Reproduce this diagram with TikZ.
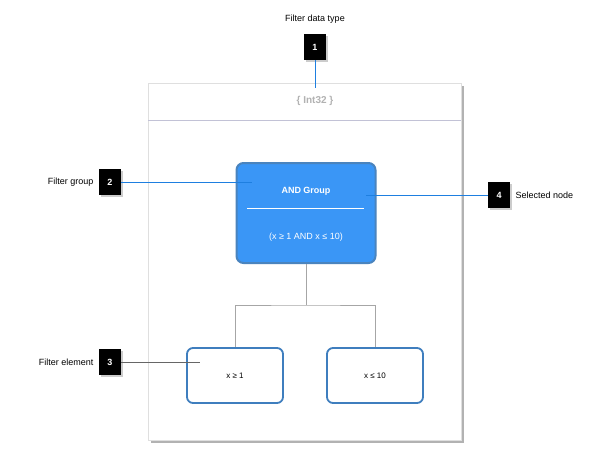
\documentclass[tikz,border=0pt]{standalone}
\usepackage{fontspec}
\setmainfont{Liberation Sans}
\usetikzlibrary{shadows}
\definecolor{grpblue}{HTML}{3A96F6}
\definecolor{grpedge}{HTML}{4A84BE}
\definecolor{elmedge}{HTML}{3F7EBE}
\definecolor{callline}{HTML}{1E7FE0}

\tikzset{
  callout/.style={fill=black, text=white, font=\bfseries\small, minimum width=22pt, minimum height=26pt, inner sep=0pt, drop shadow={shadow xshift=2pt, shadow yshift=-2pt, opacity=0.4}},
  lbl/.style={font=\small},
  element/.style={draw=elmedge, line width=1.8pt, rounded corners=6pt, fill=white, minimum width=96pt, minimum height=55pt, font=\footnotesize},
  tree/.style={draw=gray!70, line width=0.8pt}
}

\begin{document}
\begin{tikzpicture}[x=1pt,y=-1pt]
\useasboundingbox (0,0) rectangle (614,448);
% panel
\fill [gray!60] (151,86) rectangle (464,443);
\draw [fill=white, draw=gray!25] (148,83) rectangle (461,440);
\draw [draw=blue!20!gray!40, line width=0.8pt] (148,120) -- (461,120);
\node (type) at (315,101) [text=gray!60, font=\bfseries] {\{ Int32 \}};
\coordinate (panelTop) at (315,88);
% group node
\node (grp) at (306,213) [draw=grpedge, line width=2pt, fill=grpblue, rounded corners=7pt, minimum width=139pt, minimum height=100pt] {};
\node (grpTitle) at (306,191) [text=white, font=\bfseries\small] {AND Group};
\draw [white, line width=0.8pt] (247,208) -- (364,208);
\node (grpExpr) at (306,237) [text=white, font=\small] {(x ≥ 1 AND x ≤ 10)};
% elements
\node (elemA) at (235,375.5) [element] {x ≥ 1};
\node (elemB) at (375,375.5) [element] {x ≤ 10};
\coordinate (fork) at (306,305);
\draw [tree] (grp.south) -- (fork);
\draw [tree] (elemA.north) |- (fork) -| (elemB.north);
% callouts
\node (c1) at (315,47) [callout] {1};
\node (t1) at (315,19) [lbl] {Filter data type};
\draw [callline, line width=0.8pt] (c1.south) -- (panelTop);
\node (c2) at (110,182) [callout] {2};
\node (t2) at (97,182) [lbl, anchor=east] {Filter group};
\coordinate (p2) at (252,182);
\draw [callline, line width=0.8pt] (c2.east) -- (p2);
\node (c3) at (110,362) [callout] {3};
\node (t3) at (97,362) [lbl, anchor=east] {Filter element};
\coordinate (p3) at (200,362);
\draw [gray!80!black, line width=0.8pt] (c3.east) -- (p3);
\node (c4) at (499,195) [callout] {4};
\node (t4) at (512,195) [lbl, anchor=west] {Selected node};
\coordinate (p4) at (366,195);
\draw [callline, line width=0.8pt] (p4) -- (c4.west);
\end{tikzpicture}
\end{document}
